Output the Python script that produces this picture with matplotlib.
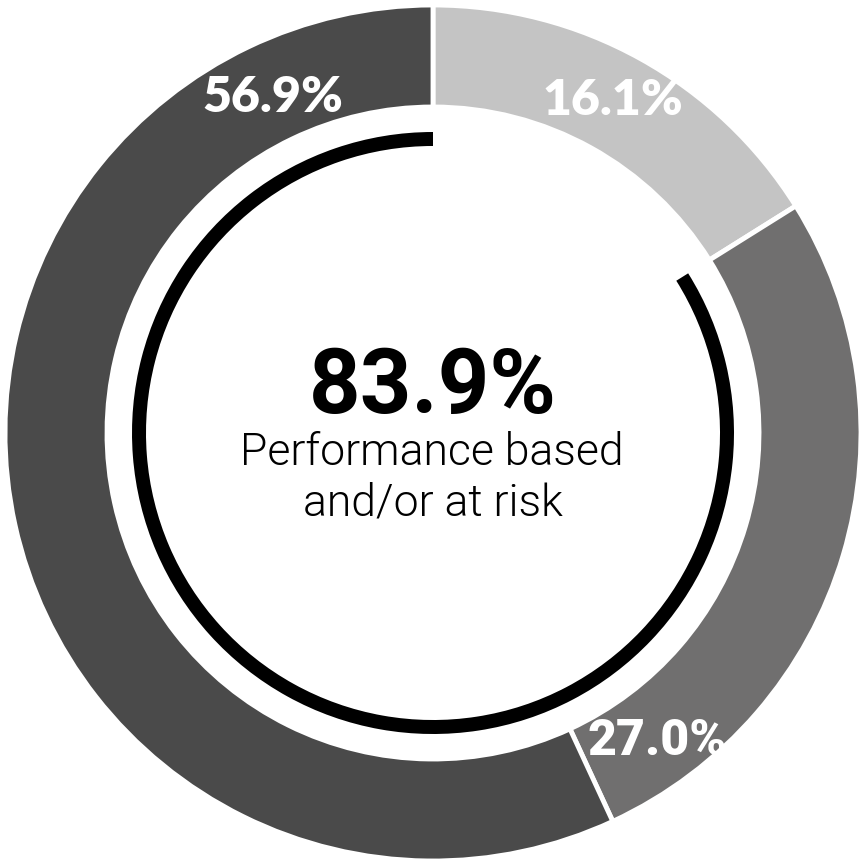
import matplotlib.pyplot as plt
from matplotlib.patches import Wedge

# Datos del anillo (sentido horario desde arriba)
segmentos = ['Light', 'Medium', 'Dark']
valores = [16.1, 27.0, 56.9]
colores = ['#c4c4c4', '#706f6f', '#4a4a4a']
etiquetas = ['16.1%', '27.0%', '56.9%']

total_riesgo = 83.9
titulo_centro = '83.9%'
subtitulo = 'Performance based\nand/or at risk'

W = 867
fig = plt.figure(figsize=(8.67, 8.67), dpi=100)
ax = fig.add_axes([0, 0, 1, 1])
ax.set_xlim(0, W)
ax.set_ylim(0, W)
ax.set_aspect('equal')
ax.axis('off')

cx, cy = 433, W - 433

# Anillo exterior
ax.pie(valores, colors=colores, startangle=90, counterclock=False,
       center=(cx, cy), radius=428, frame=True,
       wedgeprops=dict(width=102, edgecolor='white', linewidth=3.5))
ax.set_xlim(0, W)
ax.set_ylim(0, W)
ax.axis('off')

# Arco negro interior (83.9%)
arco = Wedge((cx, cy), 301, 90, 90 + 360 * total_riesgo / 100, width=14,
             facecolor='black', edgecolor='none')
ax.add_patch(arco)

# Etiquetas de los segmentos
pos_etiquetas = [(613, 115), (657, 755), (273, 112)]
fuentes = ['Lato', 'Roboto', 'Lato']
for txt, (x, y), fam in zip(etiquetas, pos_etiquetas, fuentes):
    ax.text(x, W - y, txt, color='white', fontsize=36, fontweight='heavy',
            family=fam, ha='center', va='baseline', clip_on=False)

# Texto central
ax.text(433, W - 413, titulo_centro, fontsize=65, fontweight='bold',
        family='Roboto', ha='center', va='baseline', color='black')
lineas = subtitulo.split('\n')
ax.text(432, W - 465, lineas[0], fontsize=32, fontweight=300,
        family='Roboto', ha='center', va='baseline', color='black')
ax.text(433, W - 515, lineas[1], fontsize=32, fontweight=300,
        family='Roboto', ha='center', va='baseline', color='black')

fig.savefig('out.png', dpi=100)
